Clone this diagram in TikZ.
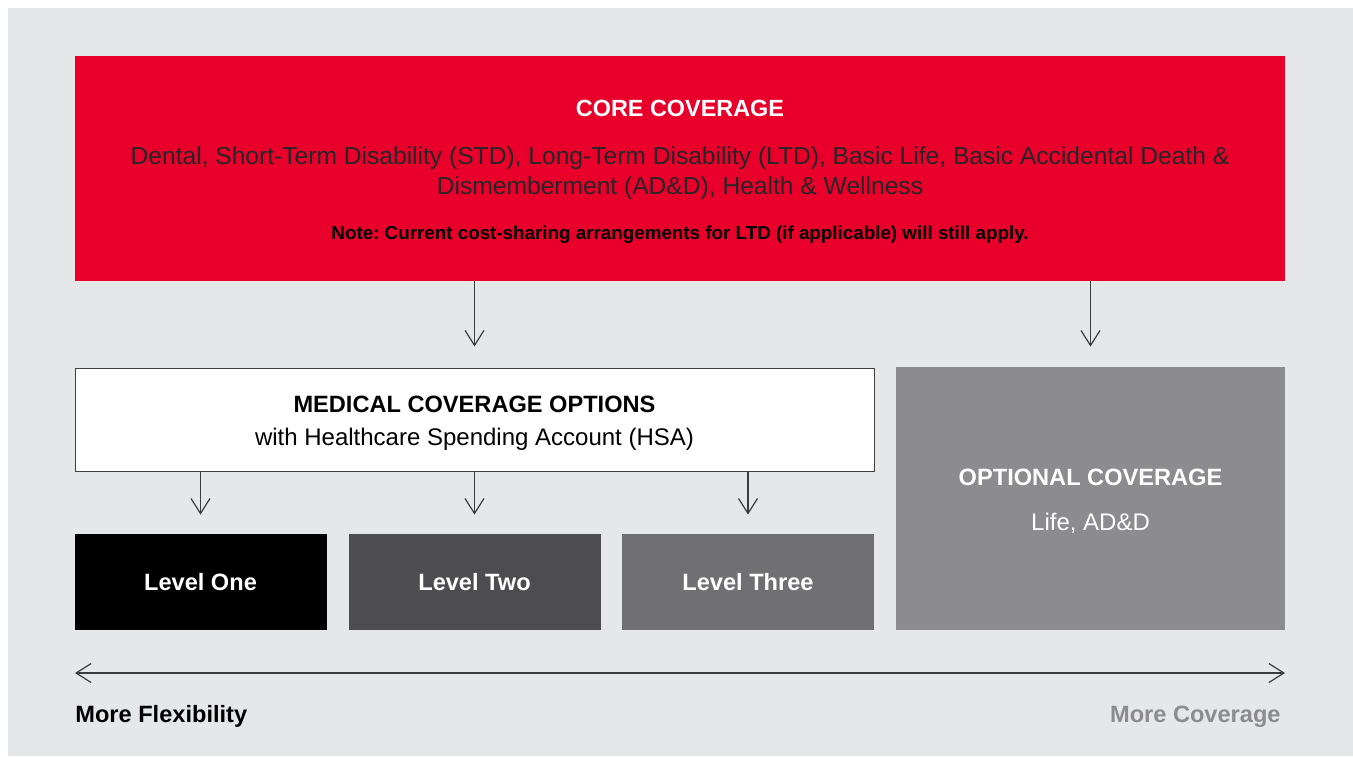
\documentclass[tikz,border=0pt]{standalone}
\usepackage{fontspec}
\setmainfont{Liberation Sans}
\usetikzlibrary{arrows.meta, positioning}
\definecolor{corered}{RGB}{232,0,43}
\definecolor{bggray}{RGB}{230,231,232}
\definecolor{leveltwo}{RGB}{77,77,79}
\definecolor{levelthree}{RGB}{112,112,114}
\definecolor{optgray}{RGB}{140,140,142}
\definecolor{arrowgray}{RGB}{60,60,60}
\frenchspacing

\begin{document}
\begin{tikzpicture}[
    x=0.5pt, y=-0.5pt,
    node distance=81.25pt and 137pt, % first value is vertical, second is horizontal
    on grid,
    box/.style={rectangle, inner sep=0pt},
    boxtext/.style={inner sep=0pt, align=center, font=\fontsize{12}{15}\selectfont},
    level/.style={box, minimum width=126pt, minimum height=48pt, text=white, font=\fontsize{11.8}{15}\selectfont\bfseries},
    arrow/.style={-{Straight Barb[length=7.5pt, width=9.5pt]}, line width=0.6pt, draw=arrowgray}
]
    \useasboundingbox (0,0) rectangle (1353,756);
    \fill[bggray] (8,8) rectangle (1353,756);

    % Top box
    \node[box, fill=corered, minimum width=605pt, minimum height=112.5pt] (core) at (680,168.5) {};
    \node[boxtext] (coretext) at ([yshift=-1.5pt]core.center)
        {{\fontsize{11.7}{15}\selectfont\bfseries\color{white}CORE COVERAGE}\\[9pt]
         {\fontsize{12.3}{15}\selectfont\color{black!85}Dental, Short-Term Disability (STD), Long-Term Disability (LTD), Basic Life, Basic Accidental Death \&}\\
         {\fontsize{12.3}{15}\selectfont\color{black!85}Dismemberment (AD\&D), Health \& Wellness}\\[7.5pt]
         {\fontsize{9.4}{10}\selectfont\bfseries Note: Current cost-sharing arrangements for LTD (if applicable) will still apply.}};

    % Middle row
    \node[box, fill=white, draw=black!75, line width=0.5pt, minimum width=399.5pt, minimum height=51.5pt] (medical) at (474.5,419.5) {};
    \node[boxtext] (medicaltext) at ([yshift=-2pt]medical.center)
        {{\fontsize{11.8}{15}\selectfont\bfseries MEDICAL COVERAGE OPTIONS}\\[1.5pt]
         with Healthcare Spending Account (HSA)};
    \node[box, fill=optgray, minimum width=194.5pt, minimum height=131.5pt] (optional) at (1090.5,498.5) {};
    \node[boxtext, text=white] (optionaltext) at ([yshift=-1.5pt]optional.center)
        {{\fontsize{11.8}{15}\selectfont\bfseries OPTIONAL COVERAGE}\\[7.5pt]
         Life, AD\&D};

    % Bottom row - levels below the medical box
    \node[level, fill=leveltwo, below=of medical] (lvltwo) {Level Two};
    \node[level, fill=black, left=of lvltwo] (lvlone) {Level One};
    \node[level, fill=levelthree, right=136.75pt of lvltwo] (lvlthree) {Level Three};

    % Arrows from core
    \draw[arrow, shorten >=10.5pt] (core.south -| medical) -- (medical.north);
    \draw[arrow, shorten >=10pt] (core.south -| optional) -- (optional.north);

    % Arrows to levels
    \draw[arrow, shorten >=9.5pt] (medical.south -| lvlone) -- (lvlone.north);
    \draw[arrow, shorten >=9.5pt] (medical.south -| lvltwo) -- (lvltwo.north);
    \draw[arrow, shorten >=9.5pt] (medical.south -| lvlthree) -- (lvlthree.north);

    % Scale at the bottom
    \coordinate (flexend) at (75,673);
    \coordinate (covend) at (1285,673);
    \draw[arrow, {Straight Barb[length=7.5pt, width=9.5pt]}-{Straight Barb[length=7.5pt, width=9.5pt]}] (flexend) -- (covend);
    \node[anchor=base west, inner sep=0pt, font=\fontsize{11.8}{15}\selectfont\bfseries] (flexlabel) at (75,722) {More Flexibility};
    \node[anchor=base east, inner sep=0pt, text=optgray, font=\fontsize{11.8}{15}\selectfont\bfseries] (covlabel) at (1281,722) {More Coverage};
\end{tikzpicture}
\end{document}
